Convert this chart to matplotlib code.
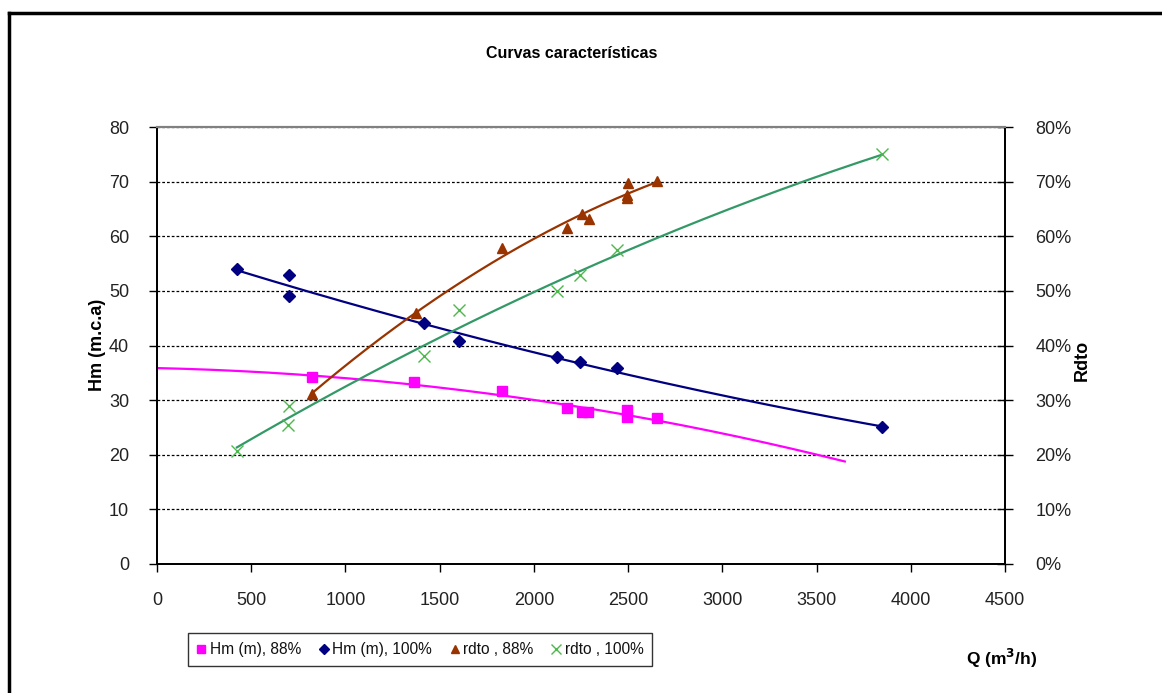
import numpy as np
import matplotlib
matplotlib.use("Agg")
import matplotlib.pyplot as plt
from matplotlib.ticker import FuncFormatter, MultipleLocator
from matplotlib.lines import Line2D

plt.rcParams['font.family'] = ['Liberation Sans', 'DejaVu Sans']

# ---- data ----
q_hm88 = [822, 1364, 1831, 2176, 2255, 2287, 2494, 2494, 2653]
hm88 = [34.2, 33.3, 31.7, 28.6, 27.8, 27.8, 28.2, 27.0, 26.7]

q_hm100 = [424, 700, 700, 1417, 1603, 2123, 2245, 2441, 3845]
hm100 = [54.0, 52.9, 49.0, 44.1, 40.9, 37.9, 36.9, 35.8, 25.0]

q_r88 = [822, 1373, 1829, 2177, 2254, 2292, 2492, 2492, 2497, 2651]
r88 = [0.311, 0.459, 0.578, 0.616, 0.640, 0.631, 0.670, 0.676, 0.697, 0.701]

q_r100 = [424, 697, 700, 1417, 1604, 2125, 2245, 2443, 3845]
r100 = [0.207, 0.254, 0.289, 0.381, 0.465, 0.500, 0.529, 0.575, 0.750]

# trendline ranges (Excel forecast extents)
trend_hm88_range = (0, 3650)
trend_hm100_range = (424, 3845)
trend_r88_range = (822, 2651)
trend_r100_range = (424, 3845)

legend_labels = ['Hm (m), 88%', 'Hm (m), 100%', 'rdto , 88%', 'rdto , 100%']

c_mag = '#FF00FF'
c_navy = '#000080'
c_brown = '#993300'
c_green_line = '#339966'
c_green_mk = '#4CB84C'

W, H = 1162, 693
fig = plt.figure(figsize=(W / 100, H / 100), dpi=100)
ax = fig.add_axes([157 / W, 1 - 564 / H, (1005 - 157) / W, (564 - 127) / H])
ax2 = ax.twinx()

def trend(x, y, rng, deg=2):
    c = np.polyfit(x, y, deg)
    xs = np.linspace(rng[0], rng[1], 200)
    return xs, np.polyval(c, xs)

# gridlines
ax.set_xlim(0, 4500)
ax.set_ylim(0, 80)
ax2.set_ylim(0, 0.8)
ax.yaxis.set_major_locator(MultipleLocator(10))
ax.xaxis.set_major_locator(MultipleLocator(500))
ax2.yaxis.set_major_locator(MultipleLocator(0.1))
ax.grid(axis='y', color='black', linestyle=(0, (2.2, 1.6)), linewidth=0.9)
ax.set_axisbelow(True)

# trendlines
xs, ys = trend(q_hm88, hm88, trend_hm88_range)
ax.plot(xs, ys, color=c_mag, lw=1.6, zorder=3)
xs, ys = trend(q_hm100, hm100, trend_hm100_range)
ax.plot(xs, ys, color=c_navy, lw=1.6, zorder=3)
xs, ys = trend(q_r88, r88, trend_r88_range)
ax2.plot(xs, ys, color=c_brown, lw=1.6, zorder=3)
xs, ys = trend(q_r100, r100, trend_r100_range)
ax2.plot(xs, ys, color=c_green_line, lw=1.6, zorder=3)

# markers
ax.plot(q_hm88, hm88, ls='none', marker='s', ms=6.5, color=c_mag, zorder=4)
ax.plot(q_hm100, hm100, ls='none', marker='D', ms=6, color=c_navy, zorder=4)
ax2.plot(q_r88, r88, ls='none', marker='^', ms=7, color=c_brown, zorder=4)
ax2.plot(q_r100, r100, ls='none', marker='x', ms=9, mew=1.0, color=c_green_mk, zorder=4)

# spines
for a in (ax, ax2):
    a.spines['top'].set_color('#808080')
    a.spines['top'].set_linewidth(1.5)
    a.spines['left'].set_linewidth(1.3)
    a.spines['right'].set_linewidth(1.3)
    a.spines['bottom'].set_linewidth(1.3)

ax.tick_params(axis='y', direction='out', length=6, width=1.0, pad=14, labelsize=13, colors='black')
ax.tick_params(axis='x', direction='out', length=6, width=1.0, pad=14, labelsize=13)
ax2.tick_params(axis='y', direction='inout', length=12, width=1.0, pad=16, labelsize=13)
for lbl in ax.get_yticklabels() + ax.get_xticklabels() + ax2.get_yticklabels():
    lbl.set_color('#222222')
ax2.yaxis.set_major_formatter(FuncFormatter(lambda v, p: f"{v * 100:.0f}%"))

# labels
fig.text(572 / W, 1 - 53 / H, 'Curvas características', ha='center', va='center',
         fontsize=11.5, fontweight='bold', family=['Liberation Sans Narrow', 'Liberation Sans'])
fig.text(98 / W, 1 - 345 / H, 'Hm (m.c.a)', ha='center', va='center', rotation=90,
         fontsize=13, fontweight='bold')
fig.text(1082 / W, 1 - 360 / H, 'Rdto', ha='center', va='center', rotation=90,
         fontsize=13, fontweight='bold')
fig.text(1002 / W, 1 - 658 / H, 'Q (m$^{\\mathbf{3}}$/h)', ha='center', va='center',
         fontsize=12.5, fontweight='bold')

# legend
handles = [
    Line2D([], [], ls='none', marker='s', ms=6, color=c_mag),
    Line2D([], [], ls='none', marker='D', ms=5, color=c_navy),
    Line2D([], [], ls='none', marker='^', ms=6, color=c_brown),
    Line2D([], [], ls='none', marker='x', ms=7, mew=1.0, color=c_green_mk),
]
leg = fig.legend(handles, legend_labels, loc='center', bbox_to_anchor=(420 / W, 1 - 649.5 / H),
                 ncol=4, fontsize=11.2, frameon=True, fancybox=False, edgecolor='black',
                 handlelength=0.6, handletextpad=0.25, columnspacing=1.15, borderpad=0.55,
                 borderaxespad=0)
leg.get_frame().set_linewidth(1.0)
for t in leg.get_texts():
    t.set_color('#111111')

# outer chart border (top and left visible)
fig.add_artist(Line2D([9 / W, 9 / W], [0, 1 - 13 / H], transform=fig.transFigure, color='black', lw=2.5))
fig.add_artist(Line2D([9 / W, 1], [1 - 13 / H, 1 - 13 / H], transform=fig.transFigure, color='black', lw=2.5))

fig.savefig('out.png', dpi=100)
